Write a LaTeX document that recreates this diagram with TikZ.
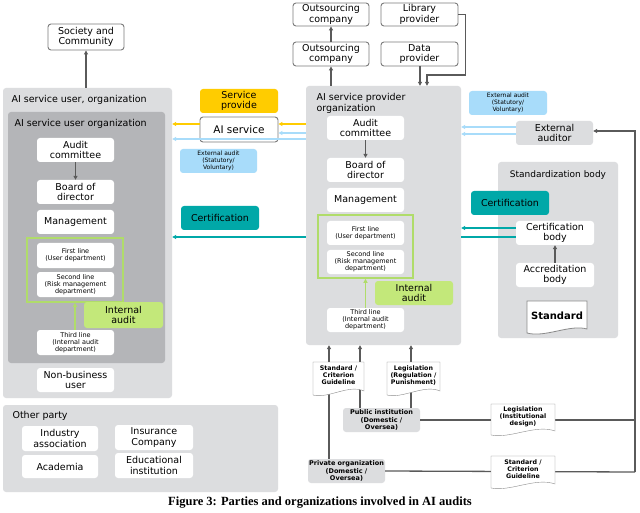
\documentclass[tikz,border=0pt]{standalone}
\usepackage{fontspec}
\setmainfont{DejaVu Sans}
\newfontfamily\capfont{Liberation Serif}
\usetikzlibrary{arrows.meta,calc}
\definecolor{outg}{HTML}{DCDDDF}
\definecolor{ing}{HTML}{B4B5B8}
\definecolor{grn}{HTML}{C3E87A}
\definecolor{grnl}{HTML}{B0DC6A}
\definecolor{yel}{HTML}{FFCC00}
\definecolor{blu}{HTML}{A8DCFA}
\definecolor{teal2}{HTML}{00A8A8}
\definecolor{arr}{HTML}{5A5A5A}
\newcommand\mybox[7]{\node[#1,minimum width={(#4-#2)*1pt},minimum height={(#5-#3)*1pt}] (#6) at ({(#2+#4)/2},{(#3+#5)/2}) {#7};}
\newcommand\mydoc[6]{\node[inner sep=0,align=center,font=\fontsize{6.3}{7}\selectfont\bfseries] (#5) at ({(#1+#3)/2},{(#2+#4)/2-3}) {#6};
\draw[arr!70,fill=white] (#1,#2) -- (#3,#2) -- (#3,#4-4) .. controls ({#1+0.7*(#3-#1)},{#4-11}) and ({#1+0.3*(#3-#1)},{#4+4}) .. (#1,#4) -- cycle;
\node[inner sep=0,align=center,font=\fontsize{6.3}{7}\selectfont\bfseries] at (#5) {#6};}
\tikzset{
 wb/.style={fill=white,rounded corners=3pt,inner sep=0,align=center,font=\fontsize{9.5}{10.5}\selectfont},
 ob/.style={wb,draw=arr!80,line width=0.9pt},
 sb/.style={wb,font=\fontsize{6.5}{7.2}\selectfont},
 gb/.style={wb,fill=grn},
 eb/.style={wb,fill=blu,font=\fontsize{6}{6.8}\selectfont},
 tb/.style={wb,fill=teal2},
 yb/.style={wb,fill=yel},
 pb/.style={wb,fill=outg,font=\fontsize{6.5}{7.2}\selectfont\bfseries},
 ga/.style={draw=arr,line width=1.3pt,-{Triangle[length=4pt,width=4pt]}},
 gl/.style={draw=arr,line width=1.3pt},
 ya/.style={draw=yel,line width=1.3pt,-{Triangle[length=4pt,width=4pt]}},
 ba/.style={draw=blu,line width=1.3pt,-{Triangle[length=4pt,width=4pt]}},
 ta/.style={draw=teal2,line width=1.3pt,-{Triangle[length=4pt,width=4pt]}},
 tl/.style={draw=teal2,line width=1.3pt},
 gra/.style={draw=grnl,line width=1.6pt,-{Triangle[length=4pt,width=4pt]}},
}
\begin{document}
\begin{tikzpicture}[x=1pt,y=-1pt]
\useasboundingbox[fill=white] (0,0) rectangle (640,513);
% left user side
\mybox{ob}{48}{24}{124}{50}{soc}{Society and\\Community}
\mybox{wb,fill=outg}{3}{88}{172}{398}{uout}{}
\node[anchor=west,font=\fontsize{9.5}{10.5}\selectfont] at (8,100) {AI service user, organization};
\mybox{wb,fill=ing}{8}{112}{165}{363}{uin}{}
\node[anchor=west,font=\fontsize{9.5}{10.5}\selectfont] at (11,124) {AI service user organization};
\mybox{wb}{37}{138}{114}{162}{uac}{Audit\\committee}
\mybox{wb}{37}{180}{114}{204}{ubd}{Board of\\director}
\mybox{wb}{37}{210}{114}{234}{umg}{Management}
\mybox{wb,fill=none,draw=grnl,line width=1.5pt,rounded corners=0pt}{27}{238}{123}{302}{ugf}{}
\mybox{sb}{37}{243}{114}{268}{ufl}{First line\\(User department)}
\mybox{sb}{37}{272}{114}{297}{usl}{Second line\\(Risk management\\department)}
\mybox{sb}{37}{330}{114}{355}{utl}{Third line\\(Internal audit\\department)}
\mybox{gb}{84}{302}{163}{328}{uia}{Internal\\audit}
\mybox{wb}{37}{368}{114}{392}{unb}{Non-business\\user}
\draw[ga] (uac) -- (ubd);
\draw[gra] (utl.north -| ugf.south) -- (ugf.south);
\draw[ga] (uout.north -| soc.south) -- (soc.south);
% middle
\mybox{yb}{200}{89}{278}{113}{svp}{Service\\provide}
\mybox{ob}{200}{117}{278}{142}{ais}{\fontsize{10.5}{12}\selectfont AI service}
\mybox{eb}{180}{149}{257}{173}{ea1}{External audit\\(Statutory/\\Voluntary)}
\mybox{tb}{181}{206}{259}{230}{cer1}{Certification}
% provider
\mybox{wb,fill=outg}{306}{86}{461}{345}{prov}{}
\node[anchor=north west,align=left,font=\fontsize{9.5}{10.5}\selectfont] at (313,90) {AI service provider\\organization};
\mybox{wb}{327}{116}{404}{140}{pac}{Audit\\committee}
\mybox{wb}{327}{158}{404}{182}{pbd}{Board of\\director}
\mybox{wb}{327}{188}{404}{212}{pmg}{Management}
\mybox{wb,fill=none,draw=grnl,line width=1.5pt,rounded corners=0pt}{318}{215}{413}{278}{pgf}{}
\mybox{sb}{327}{221}{404}{245}{pfl}{First line\\(User department)}
\mybox{sb}{327}{250}{404}{274}{psl}{Second line\\(Risk management\\department)}
\mybox{sb}{327}{308}{404}{332}{ptl}{Third line\\(Internal audit\\department)}
\mybox{gb}{375}{281}{453}{305}{pia}{Internal\\audit}
\draw[ga] (pac) -- (pbd);
\draw[gra] (ptl.north -| pgf.south) -- (pgf.south);
% top
\mybox{ob}{293}{3}{369}{26}{os1}{Outsourcing\\company}
\mybox{ob}{293}{42}{369}{66}{os2}{Outsourcing\\company}
\mybox{ob}{381}{3}{458}{26}{lib}{Library\\provider}
\mybox{ob}{381}{42}{458}{66}{dat}{Data\\provider}
\draw[ga] (os2) -- (os1);
\draw[ga] (prov.north -| os2.south) -- (os2.south);
\draw[ga] (dat.south -| 420,0) -- (prov.north -| 420,0);
\draw[ga] (lib.east) -- ++(7,0) |- (427,75) -- (prov.north -| 427,0);
% right
\mybox{eb}{469}{91}{547}{115}{ea2}{External audit\\(Statutory/\\Voluntary)}
\mybox{wb,fill=outg}{516}{121}{593}{145}{ext}{External\\auditor}
\mybox{wb,fill=outg}{498}{162}{618}{338}{std}{}
\node[font=\fontsize{9}{10}\selectfont] at (558,175) {Standardization body};
\mybox{tb}{471}{191}{549}{215}{cer2}{Certification}
\mybox{wb}{516}{221}{594}{245}{cb}{Certification\\body}
\mybox{wb}{516}{263}{594}{287}{ab}{Accreditation\\body}
\draw[ga] (ab) -- (cb);
\node[inner sep=0] (stdn) at (557,316) {};
\draw[arr!70,fill=white,line width=0.8pt] (527,301) -- (587,301) -- (587,329) .. controls (570,324) and (545,338) .. (527,333) -- cycle;
\node[font=\fontsize{10}{11}\selectfont\bfseries] at (557,316) {Standard};
% flows
\draw[ya] (prov.west |- 0,124) -- (ais.east |- 0,124);
\draw[ya] (ais.west |- 0,124) -- (uout.east |- 0,124);
\draw[ba] (prov.west |- 0,133) -- (ais.east |- 0,133);
\draw[ba] (prov.west |- 0,139) -- (uout.east |- 0,139);
\draw[ba] (ext.west |- 0,127) -- (prov.east |- 0,127);
\draw[ba] (ext.west |- 0,134) -- (prov.east |- 0,134);
\draw[ta] (cb.west |- 0,228) -- (prov.east |- 0,228);
\draw[tl] (cb.west |- 0,237) -- (prov.east |- 0,237);
\draw[ta] (prov.west |- 0,237) -- (uout.east |- 0,237);
% bottom
\mybox{pb}{343}{408}{420}{432}{pub}{Public institution\\(Domestic /\\Oversea)}
\mybox{pb}{308}{459}{385}{483}{pri}{Private organization\\(Domestic /\\Oversea)}
\draw[ga] (pri.north -| 329,0) -- (prov.south -| 329,0);
\draw[ga] (pub.north -| 360,0) -- (prov.south -| 360,0);
\draw[ga] (pub.north -| 411,0) -- (prov.south -| 411,0);
\draw[gl] (pub.east) -- (635,420) coordinate (c1);
\draw[gl] (pri.east) -- (635,472) coordinate (c2);
\draw[ga] (c2) -- (635,131) -- (ext.east |- 0,131);
\mydoc{313}{362}{364}{395}{d1}{Standard /\\Criterion\\Guideline}
\mydoc{387}{362}{440}{395}{d2}{Legislation\\(Regulation /\\Punishment)}
\mydoc{491}{404}{555}{435}{d3}{Legislation\\(Institutional\\design)}
\mydoc{491}{456}{555}{488}{d4}{Standard /\\Criterion\\Guideline}
% other party
\mybox{wb,fill=outg}{3}{405}{278}{492}{oth}{}
\node[anchor=west,font=\fontsize{9.5}{10.5}\selectfont] at (9,416) {Other party};
\mybox{wb}{22}{426}{98}{451}{ia}{Industry\\association}
\mybox{wb}{115}{425}{193}{450}{ic}{Insurance\\Company}
\mybox{wb}{22}{455}{98}{478}{ac}{Academia}
\mybox{wb}{115}{453}{193}{478}{ei}{Educational\\institution}
\node[font=\capfont\bfseries\fontsize{12.5}{14}\selectfont] (cap) at (320,503) {Figure 3: Parties and organizations involved in AI audits};
\end{tikzpicture}
\end{document}
